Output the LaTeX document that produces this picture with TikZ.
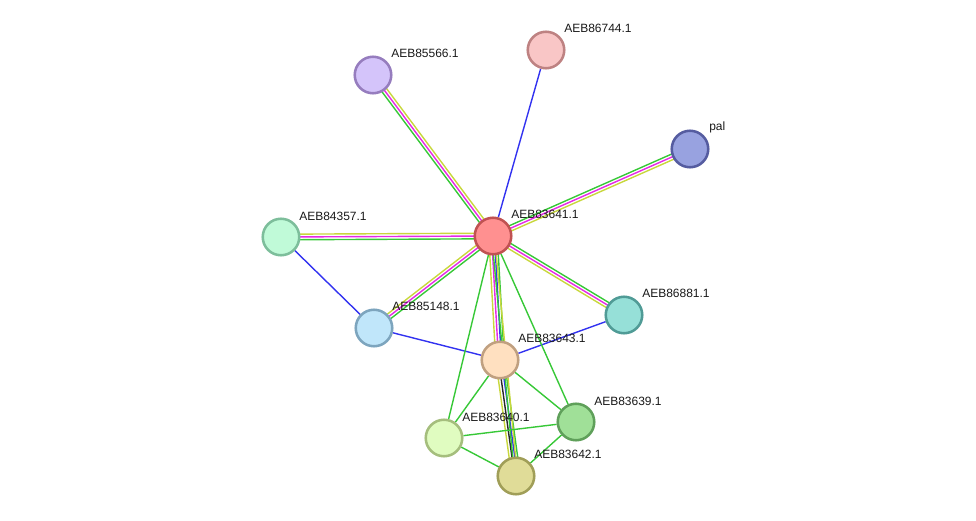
\documentclass[tikz,border=0pt]{standalone}
\usepackage{fontspec}
\setmainfont{Liberation Sans}
\usetikzlibrary{calc,backgrounds}

\definecolor{grn}{RGB}{55,200,55}
\definecolor{mag}{RGB}{230,40,230}
\definecolor{yel}{RGB}{200,215,60}
\definecolor{blu}{RGB}{50,50,240}
\definecolor{blk}{RGB}{40,40,40}

\newcommand{\strand}[4]{\draw[lnk,draw=#4] ($(#1.center)!#3!-90:(#2.center)$) -- ($(#2.center)!#3!90:(#1.center)$);}

\begin{document}
\begin{tikzpicture}[x=0.75pt,y=0.75pt,yscale=-1,xscale=1,
  prot/.style={circle,minimum size=27.4pt,inner sep=0pt,line width=1.9pt},
  lbl/.style={anchor=west,inner sep=0pt,font=\fontsize{9}{10}\selectfont,text=black!90},
  lnk/.style={line width=1.05pt}]
\useasboundingbox (0,0) rectangle (976,521);

\node[prot,fill={rgb,255:red,255;green,144;blue,144},draw={rgb,255:red,192;green,82;blue,82}] (aeb83641) at (493,236) {};
\node[prot,fill={rgb,255:red,249;green,198;blue,198},draw={rgb,255:red,190;green,130;blue,130}] (aeb86744) at (546,50) {};
\node[prot,fill={rgb,255:red,212;green,196;blue,250},draw={rgb,255:red,150;green,125;blue,190}] (aeb85566) at (373,75) {};
\node[prot,fill={rgb,255:red,152;green,162;blue,224},draw={rgb,255:red,85;green,92;blue,160}] (pal) at (690,149) {};
\node[prot,fill={rgb,255:red,192;green,250;blue,216},draw={rgb,255:red,125;green,190;blue,155}] (aeb84357) at (281,237) {};
\node[prot,fill={rgb,255:red,192;green,230;blue,250},draw={rgb,255:red,125;green,165;blue,190}] (aeb85148) at (374,328) {};
\node[prot,fill={rgb,255:red,150;green,224;blue,216},draw={rgb,255:red,80;green,155;blue,150}] (aeb86881) at (624,315) {};
\node[prot,fill={rgb,255:red,255;green,224;blue,192},draw={rgb,255:red,192;green,160;blue,128}] (aeb83643) at (500,360) {};
\node[prot,fill={rgb,255:red,160;green,224;blue,152},draw={rgb,255:red,95;green,160;blue,90}] (aeb83639) at (576,422) {};
\node[prot,fill={rgb,255:red,224;green,252;blue,192},draw={rgb,255:red,165;green,190;blue,125}] (aeb83640) at (444,438) {};
\node[prot,fill={rgb,255:red,224;green,220;blue,152},draw={rgb,255:red,160;green,158;blue,88}] (aeb83642) at (516,476) {};

\node[lbl] (t83641) at ([shift={(18,-22)}]aeb83641.center) {AEB83641.1};
\node[lbl] (t86744) at ([shift={(18,-22)}]aeb86744.center) {AEB86744.1};
\node[lbl] (t85566) at ([shift={(18,-22)}]aeb85566.center) {AEB85566.1};
\node[lbl] (tpal) at ([shift={(19,-22)}]pal.center) {pal};
\node[lbl] (t84357) at ([shift={(18,-21)}]aeb84357.center) {AEB84357.1};
\node[lbl] (t85148) at ([shift={(18,-22)}]aeb85148.center) {AEB85148.1};
\node[lbl] (t86881) at ([shift={(18,-22)}]aeb86881.center) {AEB86881.1};
\node[lbl] (t83643) at ([shift={(18,-22)}]aeb83643.center) {AEB83643.1};
\node[lbl] (t83639) at ([shift={(18,-21)}]aeb83639.center) {AEB83639.1};
\node[lbl] (t83640) at ([shift={(18,-21)}]aeb83640.center) {AEB83640.1};
\node[lbl] (t83642) at ([shift={(18,-22)}]aeb83642.center) {AEB83642.1};

\begin{pgfonlayer}{background}
\foreach \c/\o in {yel/2.1pt,mag/0pt,grn/-2.1pt} {
  \strand{aeb85566}{aeb83641}{\o}{\c}
  \strand{pal}{aeb83641}{\o}{\c}
  \strand{aeb84357}{aeb83641}{\o}{\c}
  \strand{aeb85148}{aeb83641}{\o}{\c}
  \strand{aeb86881}{aeb83641}{\o}{\c}
}
\foreach \c/\o in {yel/3.2pt,mag/1.07pt,blu/-1.07pt,grn/-3.2pt}
  \strand{aeb83643}{aeb83641}{\o}{\c};
\foreach \c/\o in {yel/3.2pt,blk/1.07pt,blu/-1.07pt,grn/-3.2pt}
  \strand{aeb83642}{aeb83643}{\o}{\c};
\foreach \c/\o in {grn/1.07pt,yel/-1.07pt}
  \strand{aeb83642}{aeb83641}{\o}{\c};
\draw[lnk,blu] (aeb83641) -- (aeb86744);
\draw[lnk,blu] (aeb84357) -- (aeb85148);
\draw[lnk,blu] (aeb85148) -- (aeb83643);
\draw[lnk,blu] (aeb86881) -- (aeb83643);
\draw[lnk,grn] (aeb83641) -- (aeb83640);
\draw[lnk,grn] (aeb83641) -- (aeb83639);
\draw[lnk,grn] (aeb83643) -- (aeb83640);
\draw[lnk,grn] (aeb83643) -- (aeb83639);
\draw[lnk,grn] (aeb83640) -- (aeb83639);
\draw[lnk,grn] (aeb83640) -- (aeb83642);
\draw[lnk,grn] (aeb83639) -- (aeb83642);
\end{pgfonlayer}
\end{tikzpicture}
\end{document}
